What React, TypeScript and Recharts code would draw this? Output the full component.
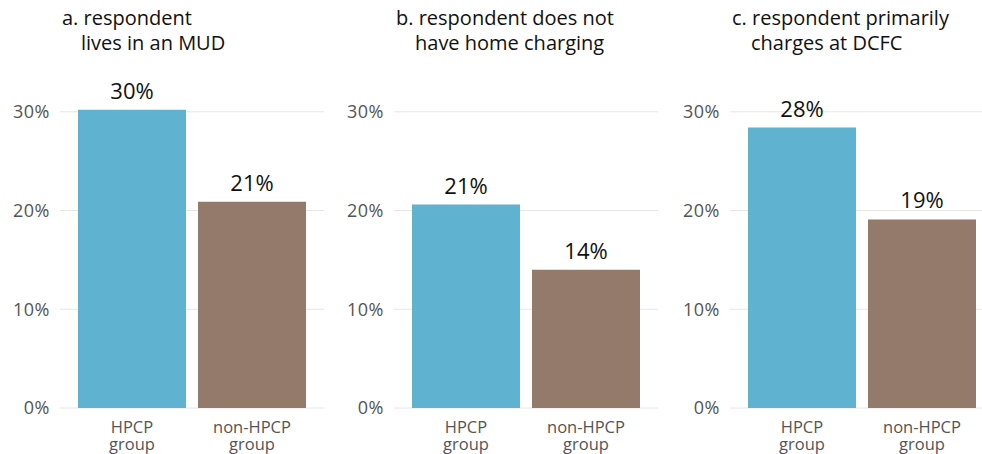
import React from "react";
import { BarChart, Bar, XAxis, YAxis, CartesianGrid, Cell, LabelList } from "recharts";

// groups on the x axis
const groups = ["HPCP group", "non-HPCP group"];
const groupLines = [["HPCP", "group"], ["non-HPCP", "group"]];

// share of respondents (%) per panel
const mudShare = [30.2, 20.9];
const noHomeChargingShare = [20.6, 14.0];
const dcfcShare = [28.4, 19.1];

const panelTitles = [
  ["a. respondent", "lives in an MUD"],
  ["b. respondent does not", "have home charging"],
  ["c. respondent primarily", "charges at DCFC"],
];

const yTicks = [0, 10, 20, 30];
const barColors = ["#5FB2D0", "#947A6A"];

const FONT = "'Open Sans', 'Noto Sans', sans-serif";

const GroupTick = (props: any) => {
  const { x, y, payload } = props;
  const lines = groupLines[payload.index] || [payload.value];
  return (
    <g>
      {lines.map((l, i) => (
        <text
          key={i}
          x={x}
          y={y + 17 + i * 17}
          textAnchor="middle"
          fill="#555"
          fontSize={16.5}
          fontFamily={FONT}
        >
          {l}
        </text>
      ))}
    </g>
  );
};

function Panel({ values, title, left }: { values: number[]; title: string[]; left: number }) {
  const data = groups.map((g, i) => ({ group: g, value: values[i] }));
  return (
    <div style={{ position: "absolute", left, top: 0, width: 324, height: 454 }}>
      <div
        style={{
          position: "absolute",
          left: 62,
          top: 5,
          fontSize: 20,
          lineHeight: "25px",
          color: "#111",
          whiteSpace: "nowrap",
        }}
      >
        <div>{title[0]}</div>
        <div style={{ paddingLeft: 19 }}>{title[1]}</div>
      </div>
      <BarChart
        width={324}
        height={454}
        data={data}
        margin={{ top: 95, right: 0, bottom: 0, left: 0 }}
        barCategoryGap={6}
      >
        <CartesianGrid vertical={false} stroke="#e6e6e6" horizontalValues={yTicks} />
        <XAxis
          dataKey="group"
          axisLine={false}
          tickLine={false}
          height={46}
          padding={{ left: 12, right: 12 }}
          tick={<GroupTick />}
          interval={0}
        />
        <YAxis
          width={60}
          domain={[0, 31.7]}
          ticks={yTicks}
          axisLine={false}
          tickLine={false}
          tickMargin={4}
          tick={{ fill: "#555", fontSize: 18, letterSpacing: 0.5 }}
          tickFormatter={(v: number) => `${v}%`}
        />
        <Bar dataKey="value" isAnimationActive={false}>
          {data.map((d, i) => (
            <Cell key={d.group} fill={barColors[i]} />
          ))}
          <LabelList
            dataKey="value"
            position="top"
            offset={11}
            fill="#111"
            fontSize={22}
            formatter={(v: any) => `${Math.round(v)}%`}
          />
        </Bar>
      </BarChart>
    </div>
  );
}

export default function App() {
  return (
    <div
      style={{
        position: "absolute",
        left: 0,
        top: 0,
        width: 982,
        height: 454,
        overflow: "hidden",
        background: "#fff",
        fontFamily: FONT,
      }}
    >
      <Panel values={mudShare} title={panelTitles[0]} left={0} />
      <Panel values={noHomeChargingShare} title={panelTitles[1]} left={334} />
      <Panel values={dcfcShare} title={panelTitles[2]} left={670} />
    </div>
  );
}
